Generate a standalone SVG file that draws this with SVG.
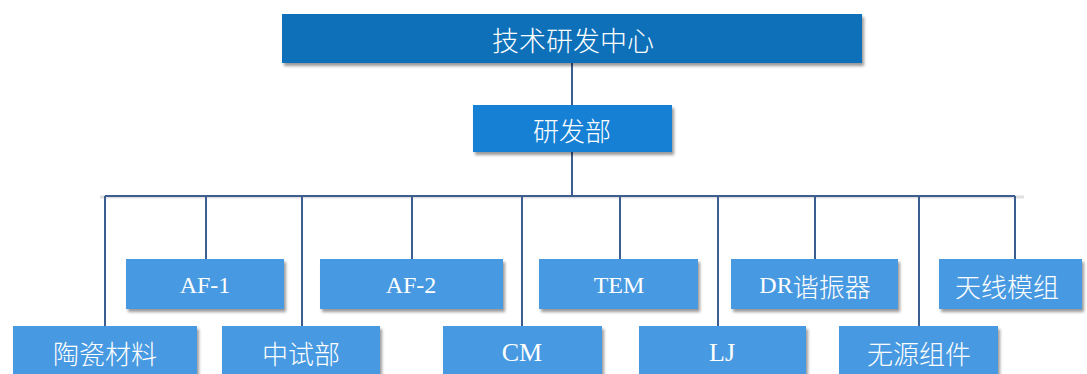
<svg xmlns="http://www.w3.org/2000/svg" width="1087" height="374" viewBox="0 0 1087 374">
<defs>
<filter id="sh" x="-10%" y="-20%" width="120%" height="160%">
<feDropShadow dx="2" dy="3" stdDeviation="1.5" flood-color="#000" flood-opacity="0.4"/>
</filter>
</defs>
<style>
.c{stroke:#3b5d8f;stroke-width:2;fill:none}
.b{fill:#4799e1;filter:url(#sh)}
.t{fill:#fff;font-family:"Liberation Serif","Noto Sans CJK SC",serif;font-size:24px;text-anchor:middle;dominant-baseline:central}
.z{font-family:"Noto Sans CJK SC",sans-serif;font-size:26px;font-weight:300}
.l{font-size:26px}
</style>
<rect width="1087" height="374" fill="#fff"/>
<g id="connectors">
<line x1="100" y1="197" x2="1024" y2="197" stroke="#ccc" stroke-width="3" opacity="0.6"/>
<path class="c" d="M572 63V105M572 152V196M105 196H1015M105 196V326M206 196V259M302 196V326M412 196V259M522 196V326M620 196V259M718 196V326M815 196V259M919 196V326M1015 196V259"/>
</g>
<g id="n0"><rect x="282" y="14" width="580" height="49" fill="#1170b8" filter="url(#sh)"/><text class="t z" x="573" y="39" style="font-size:27px">技术研发中心</text></g>
<g id="n1"><rect x="473" y="105" width="199" height="47" fill="#1380d4" filter="url(#sh)"/><text class="t z" x="572" y="129">研发部</text></g>
<g id="n2"><rect class="b" x="126" y="259" width="158" height="50"/><text class="t" x="205" y="285">AF-1</text></g>
<g id="n3"><rect class="b" x="320" y="259" width="183" height="50"/><text class="t" x="411" y="285">AF-2</text></g>
<g id="n4"><rect class="b" x="539" y="259" width="159" height="50"/><text class="t" x="619" y="285">TEM</text></g>
<g id="n5"><rect class="b" x="731" y="259" width="167" height="50"/><text class="t" x="815" y="285">DR<tspan class="z">谐振器</tspan></text></g>
<g id="n6"><rect class="b" x="939" y="259" width="143" height="50"/><text class="t z" x="1007" y="285">天线模组</text></g>
<g id="n7"><rect class="b" x="13" y="326" width="184" height="60"/><text class="t z" x="105" y="352">陶瓷材料</text></g>
<g id="n8"><rect class="b" x="222" y="326" width="158" height="60"/><text class="t z" x="301" y="352">中试部</text></g>
<g id="n9"><rect class="b" x="443" y="326" width="159" height="60"/><text class="t l" x="522" y="352">CM</text></g>
<g id="n10"><rect class="b" x="639" y="326" width="167" height="60"/><text class="t l" x="722" y="352">LJ</text></g>
<g id="n11"><rect class="b" x="839" y="326" width="159" height="60"/><text class="t z" x="919" y="352">无源组件</text></g>
</svg>
